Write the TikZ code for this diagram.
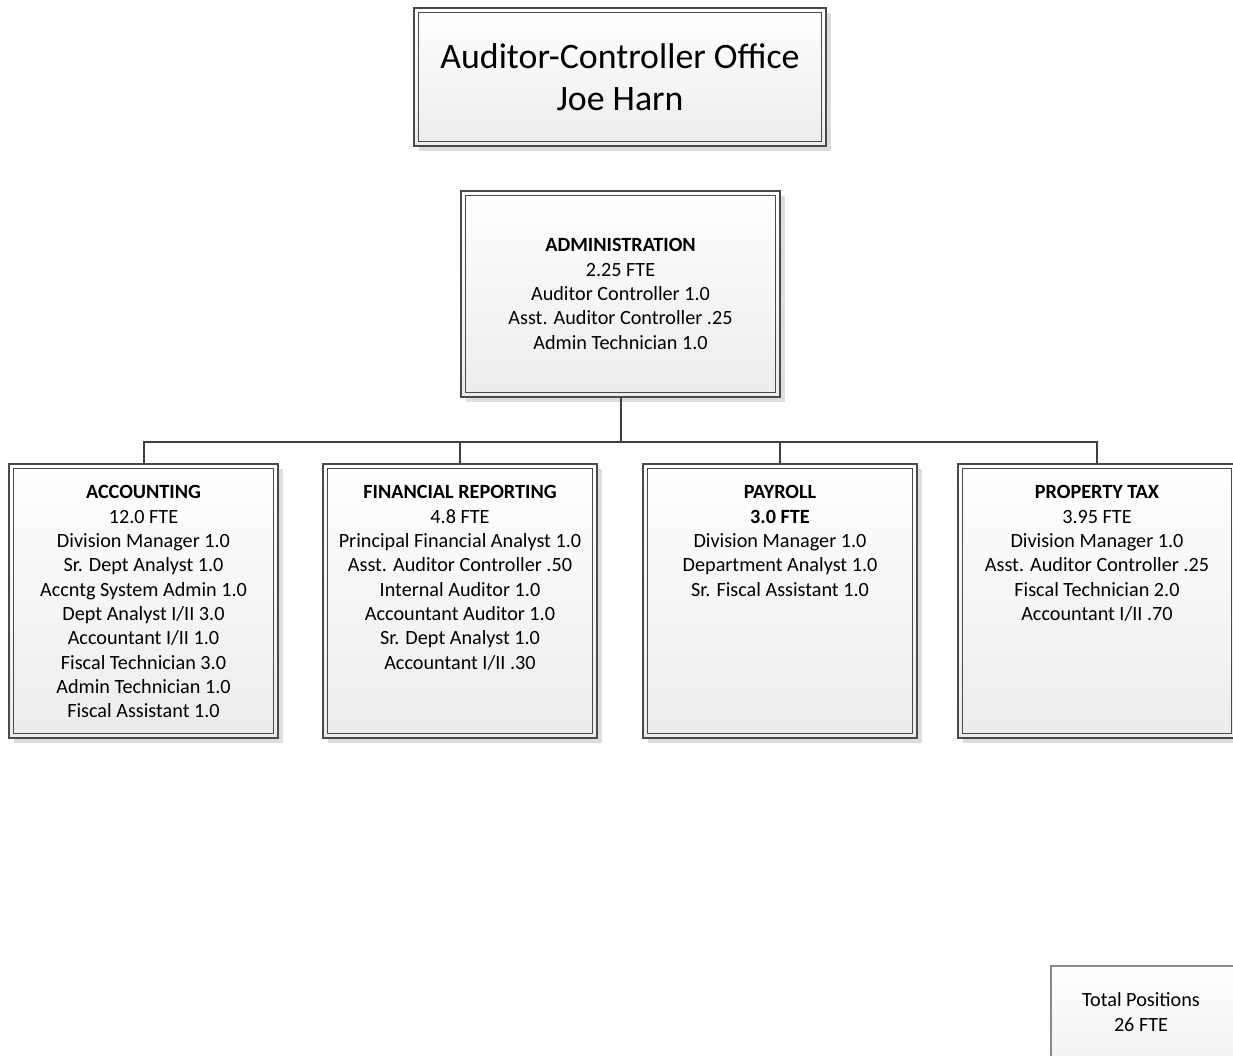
\documentclass[tikz,border=0pt]{standalone}
\usepackage{fontspec}
\setmainfont{Carlito}
\usetikzlibrary{shadows}
\definecolor{frameline}{HTML}{4A4A4A}
\definecolor{shadegray}{HTML}{DDDDDD}
\definecolor{boxbottom}{HTML}{ECECEC}
\definecolor{wire}{HTML}{3F3F3F}
\definecolor{totalline}{HTML}{8A8A8A}

\begin{document}
\begin{tikzpicture}[x=1pt,y=-1pt,
  orgbox/.style={draw=frameline, line width=1.4pt, top color=white,
    bottom color=boxbottom, inner sep=0pt, outer sep=0pt,
    general shadow={fill=shadegray, shadow xshift=4.5pt, shadow yshift=-4.5pt}},
  innerframe/.style={draw=frameline, line width=1.4pt},
  bodytext/.style={font=\fontsize{20.2}{24.3}\selectfont, align=center, inner sep=0pt},
  titletext/.style={font=\fontsize{35.8}{42}\selectfont, align=center},
  wireline/.style={draw=wire, line width=2pt},
  totalbox/.style={draw=totalline, line width=1.2pt, top color=white,
    bottom color=boxbottom!70!white, inner sep=0pt, outer sep=0pt}
]
\useasboundingbox (0,0) rectangle (1233,1055);
\clip (0,0) rectangle (1233,1055);

% office head
\node[orgbox, titletext, minimum width=412pt, minimum height=138pt] (title) at (620,77)
  {Auditor-Controller Office\\Joe Harn};

% administration
\node[orgbox, bodytext, minimum width=319pt, minimum height=206pt] (admin) at (620.5,294)
  {\textbf{ADMINISTRATION}\\2.25 FTE\\Auditor Controller 1.0\\Asst. Auditor Controller .25\\Admin Technician 1.0};

% divisions
\node[orgbox, minimum width=269pt, minimum height=274pt] (acct) at (143.5,601) {};
\node[orgbox, minimum width=274pt, minimum height=274pt] (fin)  at (460,601) {};
\node[orgbox, minimum width=274pt, minimum height=274pt] (pay)  at (780,601) {};
\node[orgbox, minimum width=278pt, minimum height=274pt] (prop) at (1097,601) {};

\foreach \n in {title,admin,acct,fin,pay,prop}
  \draw[innerframe] ([shift={(4.5,4.5)}]\n.north west) rectangle ([shift={(-4.5,-4.5)}]\n.south east);

\node[bodytext, anchor=north] (acct-text) at ([yshift=-21.5pt]acct.north)
  {\textbf{ACCOUNTING}\\12.0 FTE\\Division Manager 1.0\\Sr. Dept Analyst 1.0\\Accntg System Admin 1.0\\Dept Analyst I/II 3.0\\Accountant I/II 1.0\\Fiscal Technician 3.0\\Admin Technician 1.0\\Fiscal Assistant 1.0};
\node[bodytext, anchor=north] (fin-text) at ([yshift=-21.5pt]fin.north)
  {\textbf{FINANCIAL REPORTING}\\4.8 FTE\\Principal Financial Analyst 1.0\\Asst. Auditor Controller .50\\Internal Auditor 1.0\\Accountant Auditor 1.0\\Sr. Dept Analyst 1.0\\Accountant I/II .30};
\node[bodytext, anchor=north] (pay-text) at ([yshift=-21.5pt]pay.north)
  {\textbf{PAYROLL}\\\textbf{3.0 FTE}\\Division Manager 1.0\\Department Analyst 1.0\\Sr. Fiscal Assistant 1.0};
\node[bodytext, anchor=north] (prop-text) at ([yshift=-21.5pt]prop.north)
  {\textbf{PROPERTY TAX}\\3.95 FTE\\Division Manager 1.0\\Asst. Auditor Controller .25\\Fiscal Technician 2.0\\Accountant I/II .70};

% reporting lines
\coordinate (bus) at (620.5,442);
\draw[wireline] (admin.south) -- (bus);
\draw[wireline] (acct.north) |- (bus) -| (prop.north);
\draw[wireline] (fin.north) -- (fin.north |- bus);
\draw[wireline] (pay.north) -- (pay.north |- bus);

% total, running off the page edge
\node[totalbox, minimum width=200pt, minimum height=100pt] (total) at (1151,1016) {};
\node[bodytext] (total-text) at (1141,1012) {Total Positions\\26 FTE};
\end{tikzpicture}
\end{document}
